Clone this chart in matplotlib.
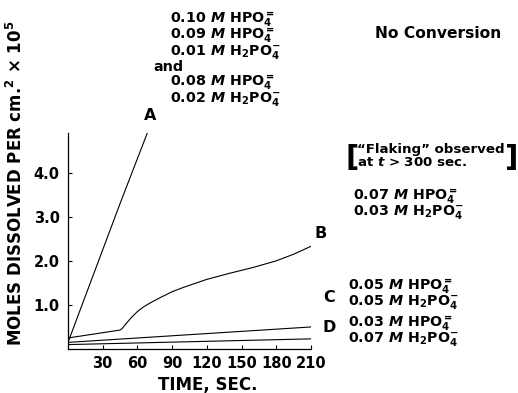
import matplotlib
matplotlib.use('Agg')
import matplotlib.pyplot as plt

plt.rcParams['font.family'] = 'DejaVu Sans'
plt.rcParams['font.weight'] = 'bold'
plt.rcParams['mathtext.fontset'] = 'custom'
plt.rcParams['mathtext.rm'] = 'DejaVu Sans:bold'
plt.rcParams['mathtext.it'] = 'DejaVu Sans:italic'
plt.rcParams['mathtext.bf'] = 'DejaVu Sans:bold'

# datos
t_a = [0, 20, 45, 70]
y_a = [0.15, 1.55, 3.3, 5.0]
t_b = [0, 45, 47, 50, 55, 60, 65, 70, 80, 90, 100, 120, 140, 160, 180, 195, 210]
y_b = [0.25, 0.43, 0.47, 0.57, 0.72, 0.85, 0.95, 1.03, 1.17, 1.3, 1.4, 1.58, 1.72, 1.85, 2.0, 2.15, 2.33]
t_c = [0, 90, 210]
y_c = [0.15, 0.3, 0.5]
t_d = [0, 210]
y_d = [0.1, 0.23]
curvas = ['A', 'B', 'C', 'D']
xticks = [30, 60, 90, 120, 150, 180, 210]
yticks = [1.0, 2.0, 3.0, 4.0]

W, H = 518, 393
fig = plt.figure(figsize=(W / 100, H / 100), dpi=100)
ax = fig.add_axes([68 / W, 1 - 349 / H, 243 / W, 216 / H])

for t, y in [(t_a, y_a), (t_b, y_b), (t_c, y_c), (t_d, y_d)]:
    ax.plot(t, y, color='black', lw=0.8)

ax.set_xlim(0, 210)
ax.set_ylim(0, 4.9)
ax.set_xticks(xticks)
ax.set_yticks(yticks)
ax.set_yticklabels(['%.1f' % v for v in yticks])
ax.tick_params(direction='in', length=3, width=0.8, labelsize=10.5)
ax.tick_params(axis='y', pad=6)
ax.tick_params(axis='x', pad=5)
for s in ['top', 'right']:
    ax.spines[s].set_visible(False)
for s in ['left', 'bottom']:
    ax.spines[s].set_linewidth(0.9)

fig.text(208 / W, 1 - 385 / H, 'TIME, SEC.', fontsize=12, ha='center', va='center')
fig.text(16 / W, 1 - 183 / H, r'MOLES DISSOLVED PER cm.$^2$ $\times$ 10$^5$',
         rotation=90, fontsize=12, ha='center', va='center')

# etiquetas de curvas
for lab, (x, y) in zip(curvas, [(150, 116), (321, 233), (329, 297), (329, 328)]):
    fig.text(x / W, 1 - y / H, lab, fontsize=11.5, ha='center', va='center')

def txt(x, y, s, size=10.3, ha='left'):
    fig.text(x / W, 1 - y / H, s, fontsize=size, ha=ha, va='center')

hpo = r' $\mathit{M}$ HPO$_4^{=}$'
h2po = r' $\mathit{M}$ H$_2$PO$_4^{-}$'

txt(170, 20, '0.10' + hpo)
txt(170, 36, '0.09' + hpo)
txt(170, 52, '0.01' + h2po)
txt(153, 67, 'and')
txt(170, 83, '0.08' + hpo)
txt(170, 99, '0.02' + h2po)
txt(375, 34, 'No Conversion', size=11.2)

txt(346, 158, '[', size=21)
txt(357, 149, '\u201cFlaking\u201d observed', size=9.6)
txt(357, 163, r'at $t$ > 300 sec.', size=9.6)
txt(505, 158, ']', size=21)

txt(353, 197, '0.07' + hpo)
txt(353, 212, '0.03' + h2po)
txt(348, 287, '0.05' + hpo)
txt(348, 302, '0.05' + h2po)
txt(348, 324, '0.03' + hpo)
txt(348, 339, '0.07' + h2po)

fig.savefig('out.png', dpi=100)
